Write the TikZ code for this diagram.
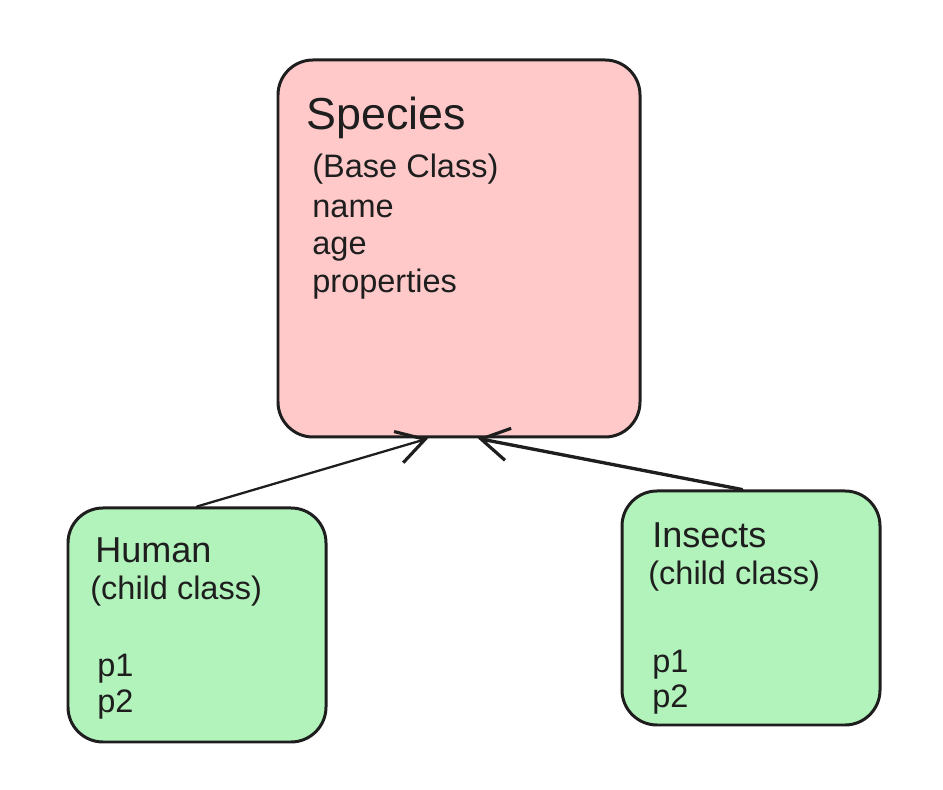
\documentclass[tikz,border=0pt]{standalone}
\usepackage{fontspec}
\setmainfont{Liberation Sans}
\usetikzlibrary{arrows.meta}
\definecolor{inkdark}{HTML}{1E1E1E}
\definecolor{basepink}{HTML}{FFC9C9}
\definecolor{childgreen}{HTML}{B2F2BB}
\tikzset{
  classbox/.style={draw=inkdark, line width=1.7pt, rounded corners=0.7cm, inner sep=0pt},
  basebox/.style={classbox, fill=basepink, minimum width=7.24cm, minimum height=7.54cm},
  childbox/.style={classbox, fill=childgreen, minimum width=5.16cm, minimum height=4.68cm},
  bigtitle/.style={anchor=base west, inner sep=0pt, text=inkdark, font=\fontsize{25.5}{30}\selectfont},
  subtitle/.style={anchor=base west, inner sep=0pt, text=inkdark, font=\fontsize{20.5}{24}\selectfont},
  bodytext/.style={anchor=base west, inner sep=0pt, text=inkdark, font=\fontsize{18.5}{22}\selectfont},
  inherit/.style={draw=inkdark, line width=1.3pt, line cap=round, -{Straight Barb[length=5.5mm, width=6.5mm, line width=1.8pt]}},
}
\begin{document}
\begin{tikzpicture}
\useasboundingbox (0,0) rectangle (18.86,15.80);
\node[basebox] (species) at (9.18,10.83) {};
\node[childbox] (human) at (3.94,3.30) {};
\node[childbox] (insects) at (15.02,3.64) {};
\node[bigtitle] (speciesname) at (6.12,13.20) {Species};
\node[bodytext] (speciesrole) at (6.24,12.24) {(Base Class)};
\node[bodytext] (speciesa) at (6.24,11.44) {name};
\node[bodytext] (speciesb) at (6.24,10.70) {age};
\node[bodytext] (speciesc) at (6.24,9.94) {properties};
\node[subtitle] (humanname) at (1.90,4.54) {Human};
\node[bodytext] (humanrole) at (1.80,3.80) {(child class)};
\node[bodytext] (humana) at (1.94,2.26) {p1};
\node[bodytext] (humanb) at (1.94,1.54) {p2};
\node[subtitle] (insectsname) at (13.04,4.84) {Insects};
\node[bodytext] (insectsrole) at (12.96,4.10) {(child class)};
\node[bodytext] (insectsa) at (13.04,2.34) {p1};
\node[bodytext] (insectsb) at (13.04,1.64) {p2};
\draw[inherit] (human.north) -- ([xshift=-0.62cm]species.south);
\draw[inherit, line width=1.9pt] ([xshift=-0.18cm]insects.north) -- ([xshift=0.38cm]species.south);
\end{tikzpicture}
\end{document}
